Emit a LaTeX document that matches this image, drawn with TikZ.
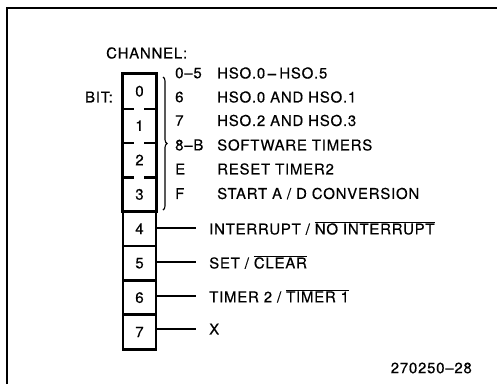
\documentclass[tikz,border=0pt]{standalone}
\usepackage{fontspec}
\setmainfont[FakeBold=0.4,LetterSpace=5]{TeX Gyre Heros}
\usetikzlibrary{decorations.pathreplacing}
\begin{document}
\begin{tikzpicture}[x=1pt,y=-1pt,
  txt/.style={inner sep=0pt,font=\fontsize{15}{17}\selectfont},
  bitcell/.style={txt,minimum width=33pt,minimum height=34.4pt},
  bitbox/.style={bitcell,draw,line width=2.8pt},
  conn/.style={line width=2pt},
  frameline/.style={line width=1.4pt}]
\useasboundingbox (0,0) rectangle (497,384);
% frame
\coordinate (fbl) at (7,384);
\coordinate (ftl) at (7,8);
\coordinate (ftr) at (497,8);
\draw[frameline] (fbl) -- (ftl) -- (ftr);
% titles
\node[txt,anchor=west] (chan) at (106,53) {CHANNEL:};
\node[txt,anchor=east] (bit) at (113,97) {BIT:};
% bits 0-3
\node[bitcell] (b0) at (139.5,91.2) {0};
\node[bitcell] (b1) at (139.5,125.6) {1};
\node[bitcell] (b2) at (139.5,160) {2};
\node[bitcell] (b3) at (139.5,194.4) {3};
\draw[line width=2.8pt] (b0.north west) rectangle (b3.south east);
\foreach \b in {b0,b1,b2}{
  \draw[line width=2.2pt] (\b.south west) -- ++(11,0);
  \draw[line width=2.2pt] (\b.south east) -- ++(-12,0);
}
% bits 4-7
\node[bitbox] (b4) at (139.5,228.8) {4};
\node[bitbox] (b5) at (139.5,263.2) {5};
\node[bitbox] (b6) at (139.5,297.6) {6};
\node[bitbox] (b7) at (139.5,332) {7};
% brace
\coordinate (brt) at (163,77);
\coordinate (brb) at (163,210);
\draw[line width=1.1pt,decorate,decoration={brace,amplitude=4pt}] (brt) -- (brb);
% channel codes
\node[txt,anchor=west] (c0) at (175,73) {0--5};
\node[txt,anchor=west] (c1) at (175,97) {6};
\node[txt,anchor=west] (c2) at (175,120.5) {7};
\node[txt,anchor=west] (c3) at (175,145) {8--B};
\node[txt,anchor=west] (c4) at (175,169) {E};
\node[txt,anchor=west] (c5) at (175,193.5) {F};
\node[txt,anchor=west] (d0) at (217,73) {HSO.0\,\textbf{--}\,HSO.5};
\node[txt,anchor=west] (d1) at (217,97) {HSO.0 AND HSO.1};
\node[txt,anchor=west] (d2) at (217,120.5) {HSO.2 AND HSO.3};
\node[txt,anchor=west] (d3) at (217,145) {SOFTWARE TIMERS};
\node[txt,anchor=west] (d4) at (217,169) {RESET TIMER2};
\node[txt,anchor=west] (d5) at (217,193.5) {START A / D CONVERSION};
% connectors and labels
\coordinate (e4) at (196,228);
\coordinate (e5) at (196,262);
\coordinate (e6) at (196,296);
\coordinate (e7) at (196,329);
\draw[conn] (b4.east|-e4) -- (e4);
\draw[conn] (b5.east|-e5) -- (e5);
\draw[conn] (b6.east|-e6) -- (e6);
\draw[conn] (b7.east|-e7) -- (e7);
\node[txt,anchor=west] (l4) at (209,228) {INTERRUPT / $\overline{\mbox{NO INTERRUPT}}$};
\node[txt,anchor=west] (l5) at (209,262) {SET / $\overline{\mbox{CLEAR}}$};
\node[txt,anchor=west] (l6) at (209,296) {TIMER 2 / $\overline{\mbox{TIMER 1}}$};
\node[txt,anchor=west] (l7) at (209,329) {X};
\node[txt,anchor=east] (fig) at (472,368) {270250--28};
\end{tikzpicture}
\end{document}
